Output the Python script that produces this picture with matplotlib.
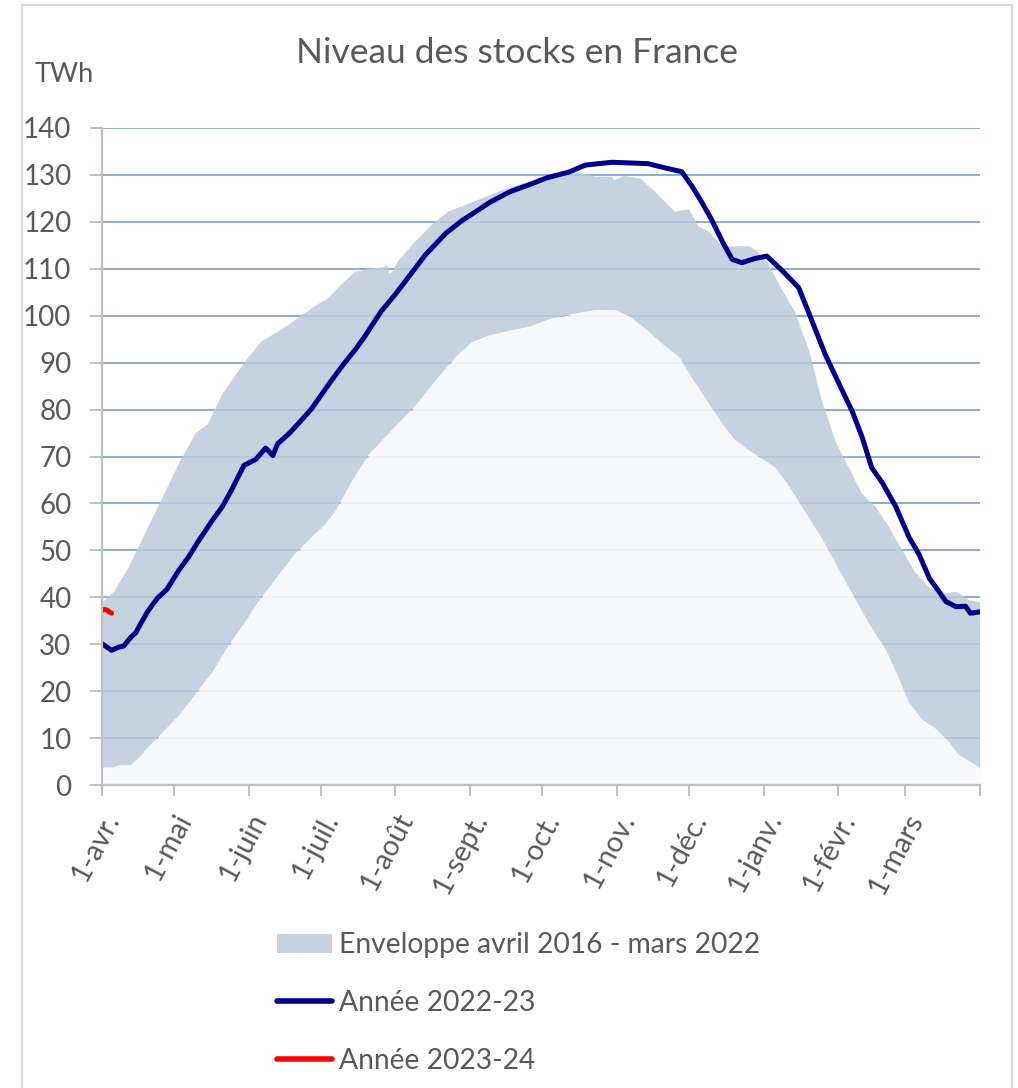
import matplotlib
matplotlib.use("Agg")
import matplotlib.pyplot as plt
from matplotlib.patches import Patch, Rectangle
from matplotlib.lines import Line2D
import numpy as np

plt.rcParams['font.family'] = ['Lato', 'DejaVu Sans']

# ---- data (day index from 1 April, value in TWh) ----
max_days = [0, 5, 11, 18, 25, 32, 39, 44, 50, 55, 61, 66, 75, 83, 88, 94, 100, 105, 111,
            117, 118.5, 119.5, 121, 123, 130, 137, 144, 151, 158, 167, 175, 183, 188, 198,
            205, 212, 213, 217, 224, 231, 238, 244, 248, 252, 258, 263, 269, 272, 277,
            282.6, 288, 294, 299, 305, 310.5, 316, 321.6, 327, 332.7, 338, 344, 349.4,
            355, 360.5, 365]
env_max = [38.9, 41.2, 46.3, 53.7, 61.1, 68.5, 75.0, 76.9, 83.3, 87.0, 91.2, 94.4, 97.2,
           100.0, 101.9, 103.7, 106.9, 109.3, 110.0, 110.3, 110.8, 109.0, 109.5, 111.6,
           115.7, 119.4, 122.2, 123.6, 125.0, 126.9, 128.2, 129.0, 129.6, 130.6, 129.6,
           129.6, 128.9, 129.8, 129.2, 125.9, 122.2, 122.7, 119.0, 118.0, 114.8, 114.8,
           114.8, 113.9, 111.1, 105.6, 100.9, 92.6, 82.4, 73.1, 67.6, 62.0, 59.3, 55.1,
           50.0, 45.4, 42.1, 40.7, 41.2, 39.4, 38.9]

min_days = [0, 5, 7, 12, 15, 19, 25, 32, 39, 46, 52, 59, 66, 73, 80, 88, 93, 97, 104, 111,
            121, 130, 140, 147, 154, 161, 169.5, 178, 185, 188, 197, 205, 213, 219, 226,
            233, 240, 245, 252, 258, 263, 269, 276, 280, 285.4, 291, 299, 305, 312, 319,
            326, 331, 335.5, 341, 346.6, 352, 356, 360.5, 365]
env_min = [3.7, 3.7, 4.2, 4.2, 5.6, 7.9, 11.1, 14.8, 19.4, 24.1, 29.2, 34.3, 39.8, 44.4,
           49.1, 53.2, 55.6, 58.3, 64.8, 70.4, 75.9, 80.6, 87.0, 91.2, 94.4, 95.8, 96.8,
           97.7, 99.1, 99.5, 100.5, 101.2, 101.2, 100.0, 97.2, 94.0, 91.2, 87.0, 81.5,
           76.9, 73.6, 71.3, 69.0, 67.6, 63.9, 59.3, 52.8, 47.2, 40.7, 34.3, 28.7, 23.1,
           17.6, 13.9, 12.0, 9.3, 6.5, 5.1, 3.7]

y22_days = [0, 4, 7, 9, 12, 14, 16, 19, 23, 27, 32, 36, 40, 46, 50, 54, 59, 64, 68, 69, 71,
            73, 78, 83, 87, 94, 100, 105, 109, 116, 122, 127.5, 134.5, 143, 150, 155.5,
            161, 169.5, 178, 185, 194, 201, 212, 227, 234, 241, 245, 249, 253.5, 258, 262,
            266, 271.5, 276.4, 282.6, 289.6, 295, 300.7, 306.3, 311.9, 316, 320, 324.4,
            330, 335.5, 339.7, 344, 348, 350.8, 355, 359, 361, 365]
y22_vals = [30.1, 28.7, 29.4, 29.6, 31.5, 32.4, 34.3, 37.0, 39.8, 41.7, 45.8, 48.6, 51.9,
            56.5, 59.3, 63.0, 68.1, 69.4, 71.8, 71.3, 70.2, 72.7, 75.0, 77.8, 80.1, 85.2,
            89.4, 92.6, 95.4, 100.9, 104.6, 108.3, 113.0, 117.6, 120.4, 122.2, 124.1,
            126.4, 128.0, 129.4, 130.6, 132.1, 132.7, 132.4, 131.5, 130.7, 127.8, 124.5,
            120.4, 115.7, 112.0, 111.3, 112.2, 112.7, 109.7, 106.0, 99.1, 91.7, 85.6, 79.6,
            74.1, 67.6, 64.4, 59.3, 52.8, 49.1, 44.0, 41.2, 39.1, 38.0, 38.1, 36.6, 36.9]

y23_days = [0, 1, 2, 3, 4]
y23_vals = [37.2, 37.4, 37.3, 36.9, 36.6]

month_days = [0, 30, 61, 91, 122, 153, 183, 214, 244, 275, 306, 334, 365]
month_labels = ['1-avr.', '1-mai', '1-juin', '1-juil.', '1-août', '1-sept.', '1-oct.',
                '1-nov.', '1-déc.', '1-janv.', '1-févr.', '1-mars', '']
y_ticks = [0, 10, 20, 30, 40, 50, 60, 70, 80, 90, 100, 110, 120, 130, 140]

labels = ['Enveloppe avril 2016 - mars 2022', 'Année 2022-23', 'Année 2023-24']

# ---- styles ----
W, H = 1018, 1088
env_color = '#bbcbdb'
low_color = '#f7f9fc'
grid_color = '#8eaadb'
axis_color = '#bfbfbf'
text_color = '#595959'
navy = '#00008b'
red = '#ff0000'

fig = plt.figure(figsize=(W / 100, H / 100), dpi=100)
fig.patch.set_facecolor('white')
fig.add_artist(Rectangle((22 / W, -0.01), (1012 - 22) / W, (H - 5) / H + 0.01,
                         transform=fig.transFigure, fill=False, ec='#d9d9d9', lw=1.6))

ax = fig.add_axes([102 / W, 1 - 785 / H, 878 / W, 657 / H])
ax.set_xlim(0, 365)
ax.set_ylim(0, 140)

ax.set_axisbelow(True)
ax.yaxis.grid(True, color=grid_color, lw=1.4, zorder=0)

ax.fill_between(min_days, 0, env_min, color=low_color, alpha=0.93, lw=0, zorder=1)
ax.fill(np.concatenate([max_days, min_days[::-1]]),
        np.concatenate([env_max, env_min[::-1]]),
        color=env_color, alpha=0.85, lw=0, zorder=1)

ax.plot(y22_days, y22_vals, color=navy, lw=3.6, zorder=3, solid_joinstyle='round')
ax.plot(y23_days, y23_vals, color=red, lw=3.6, zorder=4, solid_capstyle='round')

for s in ['top', 'right']:
    ax.spines[s].set_visible(False)
for s in ['left', 'bottom']:
    ax.spines[s].set_color(axis_color)
    ax.spines[s].set_linewidth(1.6)
    ax.spines[s].set_zorder(5)

ax.set_yticks(y_ticks)
ax.set_yticklabels([str(v) for v in y_ticks])
ax.tick_params(axis='y', length=9, width=1.4, color=axis_color, pad=13,
               labelsize=20, labelcolor=text_color)

ax.set_xticks(month_days)
ax.set_xticklabels(month_labels, rotation=62, ha='right', va='top',
                   rotation_mode='anchor')
ax.tick_params(axis='x', length=8, width=1.4, color=axis_color, pad=9,
               labelsize=20.5, labelcolor=text_color)

fig.text(517 / W, 1 - 53 / H, 'Niveau des stocks en France', ha='center', va='center',
         fontsize=25.5, color=text_color)
fig.text(35 / W, 1 - 75 / H, 'TWh', ha='left', va='center', fontsize=19.5, color=text_color)

handles = [Patch(facecolor='#c5d3e0', edgecolor='none'),
           Line2D([], [], color=navy, lw=4, solid_capstyle='round'),
           Line2D([], [], color=red, lw=4, solid_capstyle='round')]
fig.legend(handles, labels, loc='upper left', bbox_to_anchor=(277 / W, 1 - 932 / H),
           frameon=False, fontsize=20.3, handlelength=1.95, handleheight=0.65,
           handletextpad=0.25, labelspacing=1.13, borderpad=0, borderaxespad=0,
           labelcolor=text_color)

fig.savefig('out.png', dpi=100, facecolor='white')
